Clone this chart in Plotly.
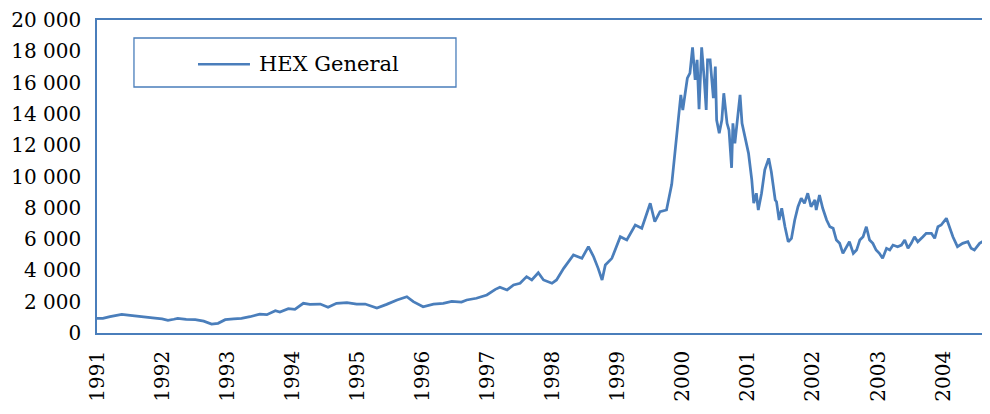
import plotly.graph_objects as go

series_name = "HEX General"

# time as decimal years
years = [
    1991.00, 1991.09, 1991.20, 1991.38, 1991.51, 1991.63, 1991.74, 1991.89,
    1992.00, 1992.09, 1992.18, 1992.24, 1992.37, 1992.51, 1992.64, 1992.70,
    1992.76, 1992.86, 1992.97, 1993.10, 1993.22, 1993.35, 1993.50, 1993.61,
    1993.74, 1993.81, 1993.94, 1994.04, 1994.17, 1994.27, 1994.43, 1994.55,
    1994.68, 1994.84, 1994.99, 1995.12, 1995.30, 1995.45, 1995.61, 1995.76,
    1995.86, 1996.01, 1996.17, 1996.32, 1996.45, 1996.60, 1996.68, 1996.83,
    1996.99, 1997.12, 1997.19, 1997.30, 1997.40, 1997.50, 1997.60, 1997.68,
    1997.78, 1997.86, 1997.99, 1998.06, 1998.17, 1998.32, 1998.45, 1998.55,
    1998.63, 1998.70, 1998.76, 1998.81, 1998.91, 1999.04, 1999.14, 1999.27,
    1999.37, 1999.50, 1999.57, 1999.65, 1999.75, 1999.83, 1999.88, 1999.92,
    1999.97, 2000.00, 2000.07, 2000.11, 2000.15, 2000.19, 2000.22, 2000.25,
    2000.29, 2000.33, 2000.36, 2000.38, 2000.42, 2000.47, 2000.50, 2000.52,
    2000.56, 2000.60, 2000.63, 2000.68, 2000.71, 2000.75, 2000.77, 2000.80,
    2000.84, 2000.88, 2000.91, 2000.96, 2001.01, 2001.06, 2001.09, 2001.13,
    2001.16, 2001.21, 2001.26, 2001.32, 2001.36, 2001.42, 2001.44, 2001.48,
    2001.52, 2001.57, 2001.62, 2001.67, 2001.72, 2001.77, 2001.82, 2001.87,
    2001.92, 2001.97, 2002.03, 2002.05, 2002.10, 2002.15, 2002.21, 2002.26,
    2002.31, 2002.36, 2002.41, 2002.46, 2002.51, 2002.56, 2002.62, 2002.67,
    2002.72, 2002.77, 2002.82, 2002.87, 2002.92, 2002.97, 2003.02, 2003.07,
    2003.13, 2003.18, 2003.23, 2003.30, 2003.36, 2003.41, 2003.46, 2003.51,
    2003.56, 2003.61, 2003.69, 2003.74, 2003.82, 2003.87, 2003.92, 2003.97,
    2004.05, 2004.10, 2004.15, 2004.22, 2004.30, 2004.38, 2004.43, 2004.48,
    2004.56, 2004.64, 2004.72,
]

hex_values = [
    940, 930, 1050, 1190, 1120, 1080, 1000, 950,
    900, 810, 880, 940, 870, 850, 760, 680,
    575, 620, 850, 900, 940, 1040, 1210, 1170,
    1425, 1340, 1550, 1515, 1900, 1830, 1850, 1640,
    1900, 1940, 1850, 1850, 1600, 1830, 2110, 2320,
    2000, 1680, 1850, 1900, 2025, 1980, 2110, 2220,
    2430, 2790, 2920, 2750, 3070, 3175, 3600, 3390,
    3850, 3390, 3175, 3390, 4130, 4985, 4770, 5515,
    4875, 4130, 3390, 4345, 4770, 6150, 5940, 6900,
    6690, 8290, 7110, 7750, 7860, 9500, 11480, 12970,
    15210, 14250, 16280, 16600, 18250, 16170, 17450, 14300,
    18250, 16170, 14250, 17450, 17450, 15000, 17020, 13610,
    12760, 13610, 15320, 13400, 12970, 10550, 13400, 12120,
    13610, 15210, 13400, 12330, 11480, 9780, 8290, 8930,
    7860, 8930, 10420, 11160, 10300, 8500, 8390, 7220,
    7970, 6790, 5830, 6050, 7220, 8070, 8610, 8290,
    8930, 8070, 8500, 7860, 8820, 7970, 7220, 6790,
    6690, 5940, 5730, 5090, 5515, 5830, 5090, 5300,
    5940, 6150, 6790, 5940, 5730, 5300, 5090, 4770,
    5410, 5300, 5620, 5515, 5620, 5940, 5410, 5730,
    6150, 5830, 6150, 6370, 6370, 6050, 6790, 6900,
    7330, 6690, 6150, 5515, 5730, 5830, 5410, 5300,
    5730, 5940, 6150,
]

year_ticks = list(range(1991, 2005))
year_labels = [str(y) for y in year_ticks]
y_ticks = [0, 2000, 4000, 6000, 8000, 10000, 12000, 14000, 16000, 18000, 20000]
y_labels = ["0", "2 000", "4 000", "6 000", "8 000", "10 000", "12 000",
            "14 000", "16 000", "18 000", "20 000"]

BLUE = "#4A7EBB"
FONT = "DejaVu Serif"
FSIZE = 20

fig = go.Figure()
fig.add_trace(go.Scatter(
    x=years, y=hex_values, mode="lines", name=series_name,
    line=dict(color=BLUE, width=2.75), showlegend=False,
))

# legend box drawn to match the reference
fig.add_shape(type="rect", xref="paper", yref="paper",
              x0=0.0414, x1=0.402, y0=0.786, y1=0.9425,
              line=dict(color=BLUE, width=1.3), fillcolor="white", layer="above")
fig.add_shape(type="line", xref="paper", yref="paper",
              x0=0.1131, x1=0.1713, y0=0.859, y1=0.859,
              line=dict(color=BLUE, width=2.5), layer="above")
fig.add_annotation(xref="paper", yref="paper", x=0.179, y=0.859,
                   text=series_name, showarrow=False, xanchor="left", yanchor="middle",
                   font=dict(family=FONT, size=21, color="black"))

fig.update_layout(
    width=990, height=414,
    margin=dict(l=89, r=8, t=12, b=89, autoexpand=False),
    paper_bgcolor="white", plot_bgcolor="white",
    font=dict(family=FONT, size=FSIZE, color="black"),
    xaxis=dict(range=[1991.0, 2004.72], tickmode="array", tickvals=year_ticks,
               ticktext=year_labels, tickangle=-90, showgrid=False, zeroline=False,
               showline=True, linecolor=BLUE, linewidth=1.5, mirror=True,
               ticks="", ticklabelstandoff=8, automargin=False,
               ticklabeloverflow="allow",
               tickfont=dict(family=FONT, size=FSIZE)),
    yaxis=dict(range=[0, 20000], tickmode="array", tickvals=y_ticks, ticktext=y_labels,
               showgrid=False, zeroline=False, showline=True, linecolor=BLUE,
               linewidth=1.5, mirror=True, ticks="", ticklabelstandoff=10,
               automargin=False, ticklabeloverflow="allow",
               tickfont=dict(family=FONT, size=FSIZE)),
)

fig.write_html("out.html")
